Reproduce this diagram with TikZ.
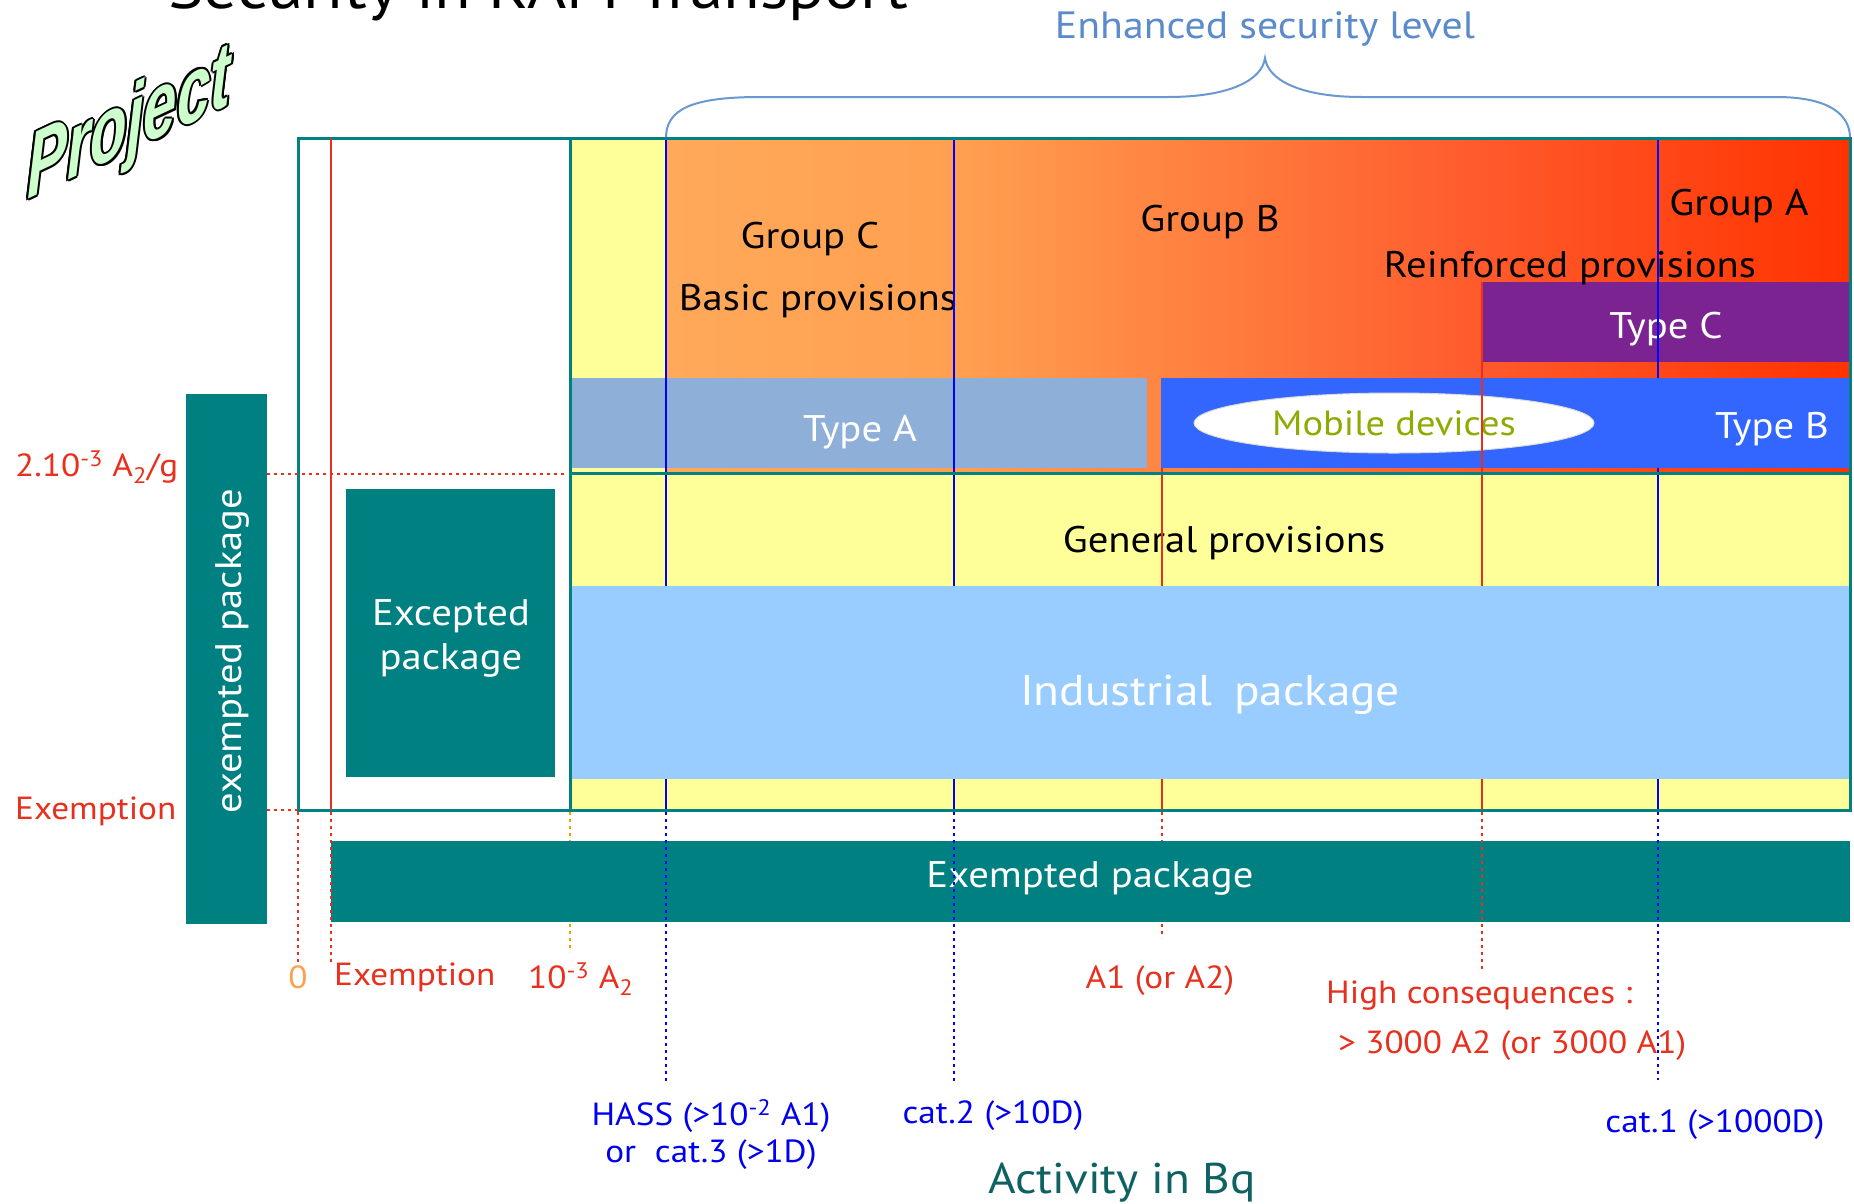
\documentclass[tikz,border=0pt]{standalone}
\usepackage{fontspec}
\setmainfont{PT Sans}[FakeStretch=1.1]
\newfontfamily\projfont{Liberation Sans}
\usetikzlibrary{shapes.geometric}
\definecolor{tealc}{HTML}{008080}
\definecolor{yelc}{HTML}{FFFF99}
\definecolor{orA}{HTML}{FFA95A}
\definecolor{orB}{HTML}{FFA050}
\definecolor{orC}{HTML}{FF5A2C}
\definecolor{orD}{HTML}{FF3300}
\definecolor{typeAc}{HTML}{8EB0D8}
\definecolor{typeBc}{HTML}{3366FF}
\definecolor{typeCc}{HTML}{7B2390}
\definecolor{indc}{HTML}{99CCFF}
\definecolor{redc}{HTML}{E8301E}
\definecolor{bluec}{HTML}{0000FF}
\definecolor{bluet}{HTML}{0000EE}
\definecolor{orgdot}{HTML}{FF9900}
\definecolor{zeroc}{HTML}{FFA050}
\definecolor{bracec}{HTML}{6A98D0}
\definecolor{enhc}{HTML}{5B8BCB}
\definecolor{actc}{HTML}{0F6262}
\definecolor{mobc}{HTML}{8FAA00}
\definecolor{projg}{HTML}{CCFFCC}
\begin{document}
\begin{tikzpicture}[x=1pt,y=-1pt,
  txt/.style={inner sep=0pt, anchor=base},
  fbig/.style={font=\fontsize{37}{40}\selectfont},
  fmid/.style={font=\fontsize{32}{34}\selectfont},
  vln/.style={line width=2.7pt},
  dotln/.style={line width=2.8pt, dash pattern=on 2.8pt off 4.2pt},
  projsty/.style={inner sep=0pt, font=\projfont\bfseries\itshape\fontsize{80}{80}\selectfont, yslant=0.47, xscale=0.75, yscale=1.15},
]
\useasboundingbox (0,0) rectangle (1854,1203);
\clip (0,0) rectangle (1854,1203);
\fill[white] (0,0) rectangle (1854,1203);

% title (cut off at top)
\node[inner sep=0pt, anchor=base west, font=\fontsize{61}{64}\selectfont] (title) at (168,8) {Security in RAM Transport};

% Project word-art (black outline made of offset copies, green face on top)
\foreach \dx/\dy [count=\k] in {-2/0,2/0,0/-2,0/2,-1.5/-1.5,1.5/1.5,-1.5/1.5,1.5/-1.5}
  \node[projsty, text=black] (pjo\k) at (129+\dx,128+\dy) {Project};
\node[projsty, text=projg] (project) at (129,128) {Project};

% brace
\draw[bracec, line width=2pt] (666,138) .. controls (666,110) and (690,97) .. (760,97)
  -- (1168,97) .. controls (1230,97) and (1262,80) .. (1265,58)
  .. controls (1268,80) and (1300,97) .. (1362,97)
  -- (1776,97) .. controls (1830,97) and (1850,115) .. (1850,138);
\node[txt, text=enhc, font=\fontsize{38}{40}\selectfont] (enh) at (1265,38) {Enhanced security level};

% left vertical exempted bar
\fill[tealc] (186,394) rectangle (267,924);
\node[txt, fbig, text=white, rotate=90] (exv) at (241,651) {exempted package};

% excepted package
\fill[tealc] (346,489) rectangle (555,777);
\node[txt, fbig, text=white] (exc1) at (451,625) {Excepted};
\node[txt, fbig, text=white] (exc2) at (451,669) {package};

% yellow and gradient
\fill[yelc] (570,138) rectangle (1850,810);
\shade[left color=orA, right color=orB] (666,138) rectangle (954.5,473);
\shade[left color=orB, right color=orC] (954,138) rectangle (1482.5,473);
\shade[left color=orC, right color=orD] (1482,138) rectangle (1850,473);

% Type A
\fill[typeAc] (571,378) rectangle (1147,468);
\node[txt, fbig, text=white] (tA) at (860,441) {Type A};

% Type C
\fill[typeCc] (1482,282) rectangle (1850,362);
\node[txt, fbig, text=white] (tC) at (1666,338) {Type C};

% group texts
\node[txt, fbig] (gC) at (810,248) {Group C};
\node[txt, fbig] (basic) at (818,310) {Basic provisions};
\node[txt, fbig] (gB) at (1210,231) {Group B};
\node[txt, fbig] (gA) at (1739,215) {Group A};
\node[txt, fbig] (reinf) at (1570,277) {Reinforced provisions};
\node[txt, fbig] (gen) at (1224,552) {General provisions};

% solid blue lines
\draw[bluec, vln] (666,138) -- (666,810);
\draw[bluec, vln] (954,138) -- (954,810);
\draw[bluec, vln] (1658,138) -- (1658,810);

% Type B
\fill[typeBc] (1161,378) rectangle (1850,468);
\node[ellipse, fill=white, draw=black!15, line width=1pt, minimum width=400pt, minimum height=60pt, inner sep=0pt,
  text=mobc, font=\fontsize{35}{38}\selectfont] (mob) at (1394,423) {Mobile devices};
\node[txt, fbig, text=white] (tB) at (1772,438) {Type B};

% red solid lines
\draw[redc, vln] (1162,468) -- (1162,810);
\draw[redc, vln] (1482,282) -- (1482,810);

% teal separator
\draw[tealc, line width=3pt] (570,473) -- (1850,473);

% industrial
\fill[indc] (570,586) rectangle (1850,779);
\node[txt, text=white, font=\fontsize{43}{46}\selectfont] (ind) at (1210,705) {Industrial\hspace{0.5em}package};

% frame
\draw[tealc, line width=3pt] (570,138) -- (570,810);
\draw[tealc, line width=3pt] (298,138) rectangle (1850,810);
\draw[redc, vln] (331,138) -- (331,810);

% dotted guides hidden behind bottom bar
\draw[orgdot, dotln] (570,812) -- (570,952);
\draw[redc, dotln] (1162,812) -- (1162,938);

% bottom exempted bar
\fill[tealc] (331,841) rectangle (1850,922);
\node[txt, fbig, text=white] (exb) at (1090,887) {Exempted package};

% dotted guides
\draw[redc, dotln] (267,474) -- (565,474);
\draw[redc, dotln] (267,810) -- (298,810);
\draw[redc, dotln] (298,812) -- (298,963);
\draw[redc, dotln] (331,812) -- (331,963);
\draw[bluec, dotln] (666,812) -- (666,1083);
\draw[bluec, dotln] (954,812) -- (954,1083);
\draw[redc, dotln] (1482,812) -- (1482,972);
\draw[bluec, dotln] (1658,812) -- (1658,1080);

% left labels
\node[txt, fmid, text=redc, anchor=base west] (l2a) at (15,476) {2.10\textsuperscript{-3} A\textsubscript{2}/g};
\node[txt, fmid, text=redc, anchor=base west] (lex) at (15,819) {Exemption};

% bottom labels
\node[txt, fmid, text=zeroc] (l0) at (298,988) {0};
\node[txt, fmid, text=redc, anchor=base west] (bex) at (334,985) {Exemption};
\node[txt, fmid, text=redc, anchor=base west] (b103) at (528,988) {10\textsuperscript{-3} A\textsubscript{2}};
\node[txt, fmid, text=bluet] (hass1) at (711,1125) {HASS (>10\textsuperscript{-2} A1)};
\node[txt, fmid, text=bluet] (hass2) at (711,1162) {or\ \ cat.3 (>1D)};
\node[txt, fmid, text=bluet] (cat2) at (993,1123) {cat.2 (>10D)};
\node[txt, fmid, text=redc] (a1) at (1160,988) {A1 (or A2)};
\node[txt, fmid, text=redc, anchor=base west] (hc1) at (1326,1003) {High consequences :};
\node[txt, fmid, text=redc, anchor=base west] (hc2) at (1338,1053) {> 3000 A2 (or 3000 A1)};
\node[txt, fmid, text=bluet] (cat1) at (1715,1132) {cat.1 (>1000D)};
\node[txt, text=actc, font=\fontsize{43}{46}\selectfont] (act) at (1122,1193) {Activity in Bq};
\end{tikzpicture}
\end{document}
